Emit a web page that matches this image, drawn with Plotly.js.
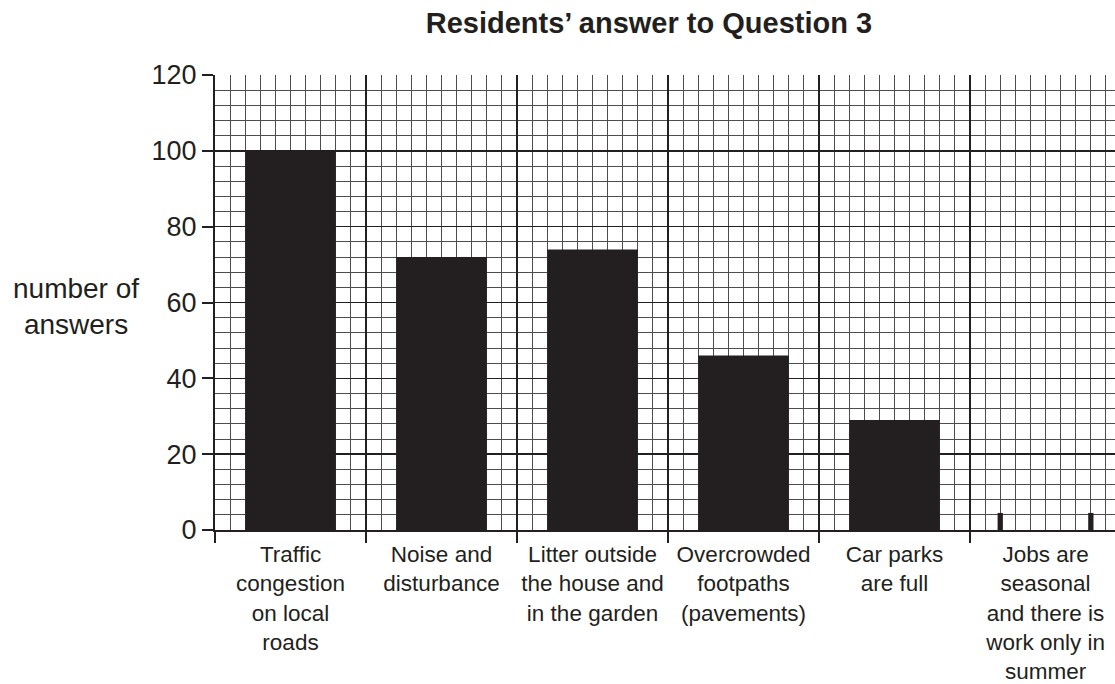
<!DOCTYPE html>
<html>
<head>
<meta charset="utf-8">
<script src="https://cdn.plot.ly/plotly-3.0.1.min.js"></script>
<style>
html,body{margin:0;padding:0;background:#fff;overflow:hidden;}
#chart{width:1115px;height:684px;}
</style>
</head>
<body>
<div id="chart"></div>
<script>
// ---- data ----
const categories = [
  "Traffic<br>congestion<br>on local<br>roads",
  "Noise and<br>disturbance",
  "Litter outside<br>the house and<br>in the garden",
  "Overcrowded<br>footpaths<br>(pavements)",
  "Car parks<br>are full",
  "Jobs are<br>seasonal<br>and there is<br>work only in<br>summer"
];
const answers = [100, 72, 74, 46, 29, null];
// small edge marks drawn at the bottom of the empty last column
const jobsMarkX = [4.7, 5.3];
const jobsMarkY = [4.5, 4.5];
const yTicks = [0, 20, 40, 60, 80, 100, 120];

const ink = '#231f20';
const minorInk = '#4f4c4d';
const FONT = '"Liberation Sans", Arial, Helvetica, sans-serif';
const xRange = [-0.5, 5.46];

const traces = [
  {
    type: 'bar', x: categories, y: answers, width: 0.6,
    marker: {color: ink, line: {width: 0}},
    xaxis: 'x', yaxis: 'y', hoverinfo: 'x+y'
  },
  {
    type: 'bar', x: jobsMarkX, y: jobsMarkY, width: 0.035,
    marker: {color: ink, line: {width: 0}},
    xaxis: 'x2', yaxis: 'y', hoverinfo: 'skip'
  }
];

const layout = {
  width: 1115, height: 684,
  margin: {l: 215, r: 0, t: 75, b: 154, pad: 0},
  paper_bgcolor: '#fff', plot_bgcolor: '#fff',
  showlegend: false,
  font: {family: FONT, color: ink},
  title: {
    text: '<b>Residents\u2019 answer to Question 3</b>',
    font: {family: FONT, size: 29, color: ink},
    xref: 'container', yref: 'container',
    x: 0.582, xanchor: 'center', y: 0.966, yanchor: 'middle'
  },
  xaxis: {
    type: 'category', range: xRange,
    showgrid: false, zeroline: false,
    showline: true, linecolor: ink, linewidth: 2,
    ticks: 'outside', tickson: 'boundaries', ticklen: 11, tickwidth: 2, tickcolor: ink,
    tickfont: {family: FONT, size: 22.5, color: ink},
    ticklabelstandoff: 3,
    tickangle: 0, automargin: false
  },
  xaxis2: {
    type: 'linear', overlaying: 'x', anchor: 'y', range: xRange,
    tick0: -0.5, dtick: 1,
    showgrid: true, gridcolor: ink, gridwidth: 1.6,
    minor: {dtick: 0.1, tick0: -0.5, showgrid: true, gridcolor: minorInk, gridwidth: 1, ticks: ''},
    showticklabels: false, ticks: '', zeroline: false, showline: false
  },
  yaxis: {
    range: [0, 120], tickvals: yTicks,
    showgrid: true, gridcolor: ink, gridwidth: 1.6,
    minor: {dtick: 4, showgrid: true, gridcolor: minorInk, gridwidth: 1, ticks: ''},
    zeroline: false,
    showline: true, linecolor: ink, linewidth: 2,
    ticks: 'outside', ticklen: 11, tickwidth: 2, tickcolor: ink,
    tickfont: {family: FONT, size: 27, color: ink},
    automargin: false
  },
  annotations: [{
    text: 'number of<br>answers', xref: 'paper', yref: 'paper',
    x: (76 - 215) / 900, y: (530 - 306) / 455, xanchor: 'center', yanchor: 'middle',
    showarrow: false, font: {family: FONT, size: 28, color: ink}
  }]
};

Plotly.newPlot('chart', traces, layout, {staticPlot: true, displayModeBar: false});
</script>
</body>
</html>
